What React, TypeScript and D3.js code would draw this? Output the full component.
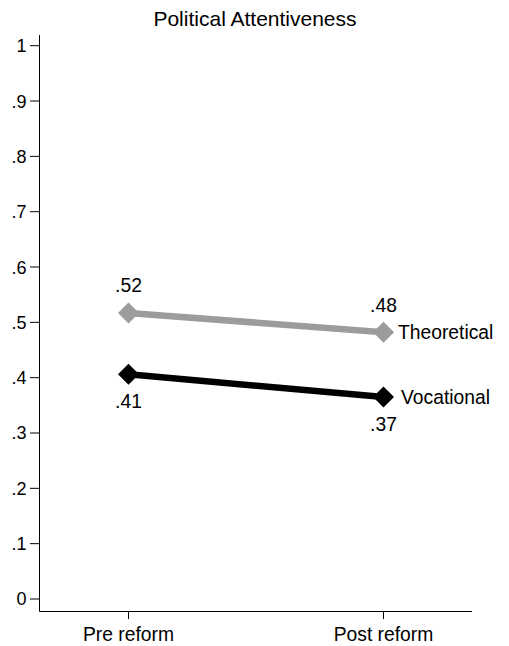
import React from "react";
import * as d3 from "d3";

const categories = ["Pre reform", "Post reform"];
const seriesNames = ["Theoretical", "Vocational"];
const theoreticalValues = [0.517, 0.482];
const vocationalValues = [0.406, 0.365];
const valueLabels = [[".52", ".48"], [".41", ".37"]];
const yTicks = [0, 0.1, 0.2, 0.3, 0.4, 0.5, 0.6, 0.7, 0.8, 0.9, 1];
const yTickLabels = ["0", ".1", ".2", ".3", ".4", ".5", ".6", ".7", ".8", ".9", "1"];
const title = "Political Attentiveness";

const colors = ["#9c9c9c", "#000000"];

export default function App() {
  const W = 509, H = 646;
  const axisX = 39.5;
  const axisY = 611.5;
  const y = d3.scaleLinear().domain([0, 1]).range([599, 45.7]);
  const x = d3.scalePoint<string>().domain(categories).range([128.5, 383.5]);
  const series = [theoreticalValues, vocationalValues];
  const line = d3.line<number>().x((_, i) => x(categories[i])!).y((d) => y(d));
  const font = "'Liberation Sans', Arial, Helvetica, sans-serif";
  const fs = 19.3;
  const diamond = (cx: number, cy: number, r: number) =>
    `M${cx},${cy - r}L${cx + r},${cy}L${cx},${cy + r}L${cx - r},${cy}Z`;

  return (
    <svg width={W} height={H} style={{ position: "absolute", left: 0, top: 0, background: "#fff" }} fontFamily={font}>
      <rect width={W} height={H} fill="#fff" />
      <text x={255} y={25.7} textAnchor="middle" fontSize={21} fill="#000">{title}</text>
      {/* y axis */}
      <line x1={axisX} x2={axisX} y1={35} y2={axisY} stroke="#000" strokeWidth={1} />
      {yTicks.map((t, i) => (
        <g key={i}>
          <line x1={30} x2={axisX} y1={y(t)} y2={y(t)} stroke="#000" strokeWidth={1} />
          <text x={26.5} y={y(t)} dy="0.36em" textAnchor="end" fontSize={18} fill="#000">{yTickLabels[i]}</text>
        </g>
      ))}
      {/* x axis */}
      <line x1={axisX} x2={472} y1={axisY} y2={axisY} stroke="#000" strokeWidth={1} />
      {categories.map((c) => (
        <g key={c}>
          <line x1={x(c)} x2={x(c)} y1={axisY} y2={619} stroke="#000" strokeWidth={1} />
          <text x={x(c)} y={641} textAnchor="middle" fontSize={fs} fill="#000">{c}</text>
        </g>
      ))}
      {/* series */}
      {series.map((vals, si) => (
        <g key={si}>
          <path d={line(vals)!} fill="none" stroke={colors[si]} strokeWidth={6.5} />
          {vals.map((v, i) => (
            <path key={i} d={diamond(x(categories[i])!, y(v), 10.5)} fill={colors[si]} />
          ))}
          {vals.map((v, i) => (
            <text
              key={"l" + i}
              x={x(categories[i])}
              y={si === 0 ? y(v) - 20.5 : y(v) + 33.5}
              textAnchor="middle"
              fontSize={fs}
              fill="#000"
            >
              {valueLabels[si][i]}
            </text>
          ))}
          <text
            x={si === 0 ? 398 : 401}
            y={y(vals[1])}
            dy="0.36em"
            fontSize={fs}
            fill="#000"
          >
            {seriesNames[si]}
          </text>
        </g>
      ))}
    </svg>
  );
}
